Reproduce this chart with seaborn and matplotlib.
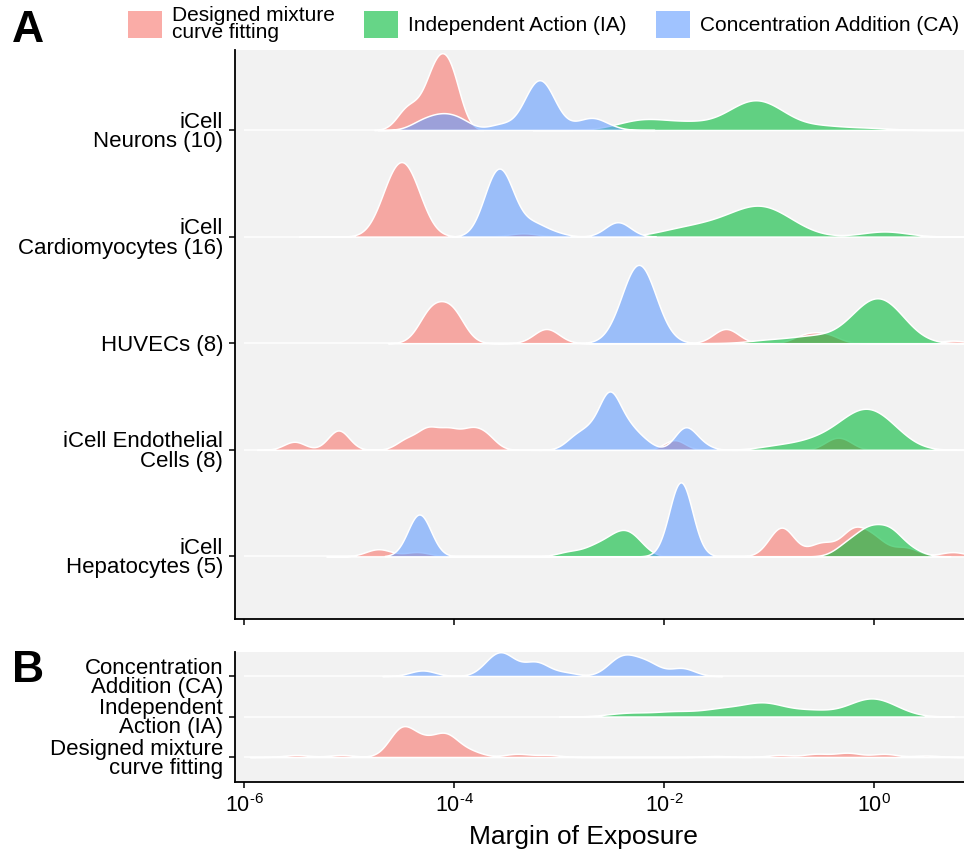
import numpy as np
import seaborn as sns
import matplotlib.pyplot as plt
from matplotlib.patches import Patch
from matplotlib.colors import to_rgba
from matplotlib.transforms import Affine2D

# legend / methods
methods = ["Designed mixture\ncurve fitting", "Independent Action (IA)", "Concentration Addition (CA)"]
colors = ["#F8766D", "#00BA38", "#619CFF"]

# panel A rows (top to bottom)
cell_labels = ["iCell\nNeurons (10)", "iCell\nCardiomyocytes (16)", "HUVECs (8)",
               "iCell Endothelial\nCells (8)", "iCell\nHepatocytes (5)"]
# panel B rows (top to bottom)
pooled_labels = ["Concentration\nAddition (CA)", "Independent\nAction (IA)", "Designed mixture\ncurve fitting"]

neurons_dm = [-4.45, -4.30, -4.17, -4.03]
neurons_dm_w = [1.5, 1.0, 3.75, 3.75]
neurons_ia = [-2.35, -2.15, -1.75, -1.25, -1.00, -0.50, -0.05]
neurons_ia_w = [5, 12, 10, 27, 27, 6, 3]
neurons_ca = [-4.30, -4.12, -3.95, -3.55, -3.25, -3.12, -2.85, -2.68, -2.52]
neurons_ca_w = [7, 10, 8, 5, 26, 26, 3, 9, 2]

cardio_dm = [-4.58, -4.42, -3.34]
cardio_dm_w = [46.5, 46.5, 3.5]
cardio_ia = [-1.90, -1.60, -1.30, -1.05, -0.80, 0.10]
cardio_ia_w = [8, 12, 20, 30, 12, 8]
cardio_ca = [-3.63, -3.51, -3.25, -3.05, -2.44]
cardio_ca_w = [33, 33, 10, 3, 12.4]

huvec_dm = [-4.22, -4.02, -3.12, -1.41, -0.65, -0.45, 0.75]
huvec_dm_w = [23, 23, 11, 11, 6, 6, 2]
huvec_ia = [-1.00, -0.60, -0.15, 0.05, 0.20]
huvec_ia_w = [5, 10, 25, 40, 20]
huvec_ca = [-2.27, -2.21]
huvec_ca_w = [50, 50]

endo_dm = [-5.52, -5.10, -4.45, -4.25, -4.05, -3.85, -3.70, -1.90, -0.40, -0.28]
endo_dm_w = [5, 12, 6, 12, 11, 10, 8, 6, 4.5, 4.5]
endo_ia = [-0.90, -0.55, -0.25, -0.05, 0.15]
endo_ia_w = [6, 12, 25, 35, 20]
endo_ca = [-2.85, -2.70, -2.52, -2.35, -2.20, -1.80, -1.65]
endo_ca_w = [7, 10, 34, 12, 5, 14, 3]

hepa_dm = [-4.72, -4.35, -0.88, -0.50, -0.20, 0.00, 0.30, 0.75]
hepa_dm_w = [5, 3, 20, 9, 17, 11, 6, 3]
hepa_ia = [-2.90, -2.65, -2.45, -2.30, -0.25, -0.05, 0.15, 0.35]
hepa_ia_w = [4, 8, 14, 14, 10, 20, 20, 5]
hepa_ca = [-4.33, -1.84]
hepa_ca_w = [30, 53]

# panel B: all cell types pooled
pooled_ca = [-4.30, -3.62, -3.50, -3.22, -2.95, -2.45, -2.33, -2.15, -1.83]
pooled_ca_w = [5, 12, 12, 12, 3, 10, 10, 10, 7]
pooled_ia = [-2.34, -1.90, -1.45, -1.05, -0.60, -0.10, 0.10]
pooled_ia_w = [6, 8, 12, 22, 10, 20, 15]
pooled_dm = [-5.50, -5.07, -4.50, -4.30, -4.08, -3.85, -3.40, -3.10, -1.50, -0.90, -0.55, -0.25, 0.10, 0.50]
pooled_dm_w = [2, 2, 26, 12, 20, 5, 3, 2, 1, 2, 3, 4, 3, 1.5]

x_ticks = [-6, -4, -2, 0]
x_ticklabels = ["$10^{\u20106}$", "$10^{\u20104}$", "$10^{\u20102}$", "$10^{0}$"]

sns.set_theme(style="ticks")
plt.rcParams["font.family"] = ["Liberation Sans", "DejaVu Sans"]
plt.rcParams["mathtext.fontset"] = "custom"
plt.rcParams["mathtext.rm"] = "Liberation Sans"
plt.rcParams["mathtext.default"] = "regular"
for key in ["text.color", "axes.labelcolor", "xtick.color", "ytick.color"]:
    plt.rcParams[key] = "black"

fig = plt.figure(figsize=(9.64, 8.56), dpi=100)
axA = fig.add_axes([0.2438, 0.2769, 0.7562, 0.6647])
axB = fig.add_axes([0.2438, 0.0864, 0.7562, 0.1519])

kA = 0.30
kB = 0.67


def ridge(ax, x, w, bw, color, offset, k):
    x = np.asarray(x, float)
    w = np.asarray(w, float)
    sd = np.sqrt(np.cov(x, aweights=w))
    sns.kdeplot(x=x, weights=w, bw_method=bw / sd, fill=True, color=color, alpha=0.6,
                edgecolor="white", linewidth=1.1, cut=3, gridsize=400, ax=ax)
    poly = ax.collections[-1]
    poly.set_transform(Affine2D().scale(1, k).translate(0, offset) + ax.transData)


rows_A = [
    [(neurons_dm, neurons_dm_w, 0.10), (neurons_ia, neurons_ia_w, 0.22), (neurons_ca, neurons_ca_w, 0.12)],
    [(cardio_dm, cardio_dm_w, 0.14), (cardio_ia, cardio_ia_w, 0.22), (cardio_ca, cardio_ca_w, 0.12)],
    [(huvec_dm, huvec_dm_w, 0.12), (huvec_ia, huvec_ia_w, 0.20), (huvec_ca, huvec_ca_w, 0.16)],
    [(endo_dm, endo_dm_w, 0.10), (endo_ia, endo_ia_w, 0.20), (endo_ca, endo_ca_w, 0.10)],
    [(hepa_dm, hepa_dm_w, 0.12), (hepa_ia, hepa_ia_w, 0.12), (hepa_ca, hepa_ca_w, 0.11)],
]
offsets_A = [4, 3, 2, 1, 0]

axA.hlines(offsets_A, -6, 1, color="white", lw=1.1, zorder=0.5)
for off, groups in zip(offsets_A, rows_A):
    for (vals, wts, bw), col in zip(groups, colors):
        ridge(axA, vals, wts, bw, col, off, kA)

rows_B = [(pooled_ca, pooled_ca_w, 0.12, colors[2]),
          (pooled_ia, pooled_ia_w, 0.20, colors[1]),
          (pooled_dm, pooled_dm_w, 0.12, colors[0])]
offsets_B = [2, 1, 0]
axB.hlines(offsets_B, -6, 1, color="white", lw=1.1, zorder=0.5)
for off, (vals, wts, bw, col) in zip(offsets_B, rows_B):
    ridge(axB, vals, wts, bw, col, off, kB)

for ax, offs, labs, ylim in [(axA, offsets_A, cell_labels, (-0.587, 4.751)),
                              (axB, offsets_B, pooled_labels, (-0.617, 2.593))]:
    ax.set_facecolor("#F2F2F2")
    ax.set_xlim(-6.086, 0.857)
    ax.set_ylim(*ylim)
    ax.set_yticks(offs)
    ax.set_yticklabels(labs, fontsize=16, linespacing=0.9)
    ax.set_ylabel("")
    ax.set_xticks(x_ticks)
    ax.tick_params(axis="both", length=4, width=1.1, color="black", pad=4.5)
    for s in ["top", "right"]:
        ax.spines[s].set_visible(False)
    for s in ["left", "bottom"]:
        ax.spines[s].set_color("black")
        ax.spines[s].set_linewidth(1.3)

axA.tick_params(axis="x", labelbottom=False)
axB.set_xticklabels(x_ticklabels, fontsize=15.5)
axB.tick_params(axis="x", pad=5)
axB.set_xlabel("Margin of Exposure", fontsize=19)
axB.xaxis.set_label_coords((583 - 235) / 729, -0.33)

handles = [Patch(facecolor=to_rgba(c, 0.6), edgecolor="none", label=m) for m, c in zip(methods, colors)]
leg = fig.legend(handles=handles, loc="center left", bbox_to_anchor=(0.1328, 0.972), ncol=3,
                 frameon=False, fontsize=15, handlelength=1.63, handleheight=1.63,
                 handletextpad=0.48, columnspacing=1.4, borderpad=0, borderaxespad=0)
for t in leg.get_texts():
    t.set_linespacing(0.9)

fig.text(12 / 964, 1 - 42 / 856, "A", fontsize=32, fontweight="bold", va="baseline")
fig.text(12 / 964, 1 - 682 / 856, "B", fontsize=32, fontweight="bold", va="baseline")

fig.savefig("out.png", dpi=100, facecolor="white")
